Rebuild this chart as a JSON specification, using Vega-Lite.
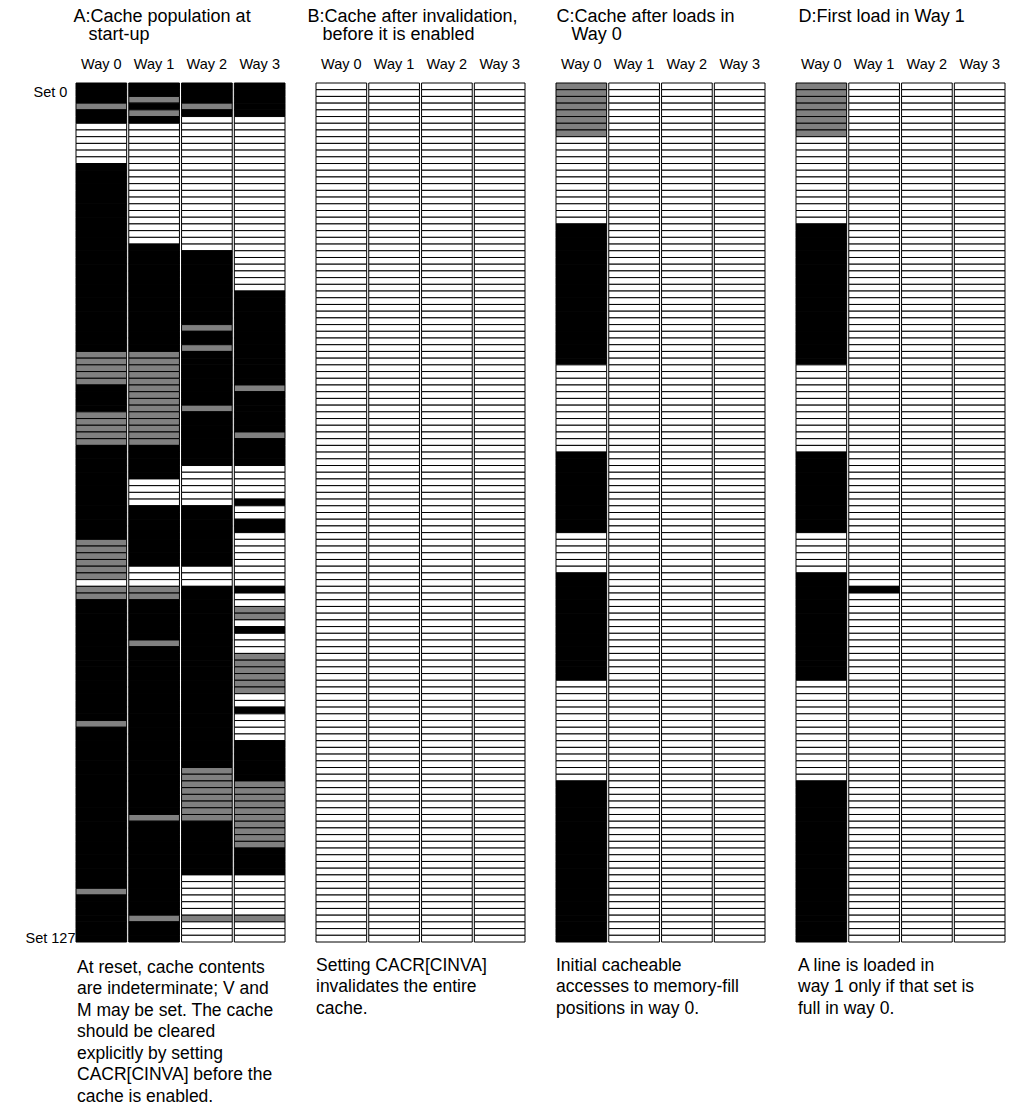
{
"$schema": "https://vega.github.io/schema/vega-lite/v6.json",
"padding": {"left": 25, "top": 7, "right": 5, "bottom": 5},
"background": "white",
"spacing": 31,
"bounds": "flush",
"data": {"values": [
{"s":0,"A0":"k","A1":"k","A2":"k","A3":"k","B0":"w","B1":"w","B2":"w","B3":"w","C0":"g","C1":"w","C2":"w","C3":"w","D0":"g","D1":"w","D2":"w","D3":"w"},
{"s":1,"A0":"k","A1":"k","A2":"k","A3":"k","B0":"w","B1":"w","B2":"w","B3":"w","C0":"g","C1":"w","C2":"w","C3":"w","D0":"g","D1":"w","D2":"w","D3":"w"},
{"s":2,"A0":"k","A1":"g","A2":"k","A3":"k","B0":"w","B1":"w","B2":"w","B3":"w","C0":"g","C1":"w","C2":"w","C3":"w","D0":"g","D1":"w","D2":"w","D3":"w"},
{"s":3,"A0":"g","A1":"k","A2":"g","A3":"k","B0":"w","B1":"w","B2":"w","B3":"w","C0":"g","C1":"w","C2":"w","C3":"w","D0":"g","D1":"w","D2":"w","D3":"w"},
{"s":4,"A0":"k","A1":"g","A2":"k","A3":"k","B0":"w","B1":"w","B2":"w","B3":"w","C0":"g","C1":"w","C2":"w","C3":"w","D0":"g","D1":"w","D2":"w","D3":"w"},
{"s":5,"A0":"k","A1":"k","A2":"w","A3":"w","B0":"w","B1":"w","B2":"w","B3":"w","C0":"g","C1":"w","C2":"w","C3":"w","D0":"g","D1":"w","D2":"w","D3":"w"},
{"s":6,"A0":"w","A1":"w","A2":"w","A3":"w","B0":"w","B1":"w","B2":"w","B3":"w","C0":"g","C1":"w","C2":"w","C3":"w","D0":"g","D1":"w","D2":"w","D3":"w"},
{"s":7,"A0":"w","A1":"w","A2":"w","A3":"w","B0":"w","B1":"w","B2":"w","B3":"w","C0":"g","C1":"w","C2":"w","C3":"w","D0":"g","D1":"w","D2":"w","D3":"w"},
{"s":8,"A0":"w","A1":"w","A2":"w","A3":"w","B0":"w","B1":"w","B2":"w","B3":"w","C0":"w","C1":"w","C2":"w","C3":"w","D0":"w","D1":"w","D2":"w","D3":"w"},
{"s":9,"A0":"w","A1":"w","A2":"w","A3":"w","B0":"w","B1":"w","B2":"w","B3":"w","C0":"w","C1":"w","C2":"w","C3":"w","D0":"w","D1":"w","D2":"w","D3":"w"},
{"s":10,"A0":"w","A1":"w","A2":"w","A3":"w","B0":"w","B1":"w","B2":"w","B3":"w","C0":"w","C1":"w","C2":"w","C3":"w","D0":"w","D1":"w","D2":"w","D3":"w"},
{"s":11,"A0":"w","A1":"w","A2":"w","A3":"w","B0":"w","B1":"w","B2":"w","B3":"w","C0":"w","C1":"w","C2":"w","C3":"w","D0":"w","D1":"w","D2":"w","D3":"w"},
{"s":12,"A0":"k","A1":"w","A2":"w","A3":"w","B0":"w","B1":"w","B2":"w","B3":"w","C0":"w","C1":"w","C2":"w","C3":"w","D0":"w","D1":"w","D2":"w","D3":"w"},
{"s":13,"A0":"k","A1":"w","A2":"w","A3":"w","B0":"w","B1":"w","B2":"w","B3":"w","C0":"w","C1":"w","C2":"w","C3":"w","D0":"w","D1":"w","D2":"w","D3":"w"},
{"s":14,"A0":"k","A1":"w","A2":"w","A3":"w","B0":"w","B1":"w","B2":"w","B3":"w","C0":"w","C1":"w","C2":"w","C3":"w","D0":"w","D1":"w","D2":"w","D3":"w"},
{"s":15,"A0":"k","A1":"w","A2":"w","A3":"w","B0":"w","B1":"w","B2":"w","B3":"w","C0":"w","C1":"w","C2":"w","C3":"w","D0":"w","D1":"w","D2":"w","D3":"w"},
{"s":16,"A0":"k","A1":"w","A2":"w","A3":"w","B0":"w","B1":"w","B2":"w","B3":"w","C0":"w","C1":"w","C2":"w","C3":"w","D0":"w","D1":"w","D2":"w","D3":"w"},
{"s":17,"A0":"k","A1":"w","A2":"w","A3":"w","B0":"w","B1":"w","B2":"w","B3":"w","C0":"w","C1":"w","C2":"w","C3":"w","D0":"w","D1":"w","D2":"w","D3":"w"},
{"s":18,"A0":"k","A1":"w","A2":"w","A3":"w","B0":"w","B1":"w","B2":"w","B3":"w","C0":"w","C1":"w","C2":"w","C3":"w","D0":"w","D1":"w","D2":"w","D3":"w"},
{"s":19,"A0":"k","A1":"w","A2":"w","A3":"w","B0":"w","B1":"w","B2":"w","B3":"w","C0":"w","C1":"w","C2":"w","C3":"w","D0":"w","D1":"w","D2":"w","D3":"w"},
{"s":20,"A0":"k","A1":"w","A2":"w","A3":"w","B0":"w","B1":"w","B2":"w","B3":"w","C0":"w","C1":"w","C2":"w","C3":"w","D0":"w","D1":"w","D2":"w","D3":"w"},
{"s":21,"A0":"k","A1":"w","A2":"w","A3":"w","B0":"w","B1":"w","B2":"w","B3":"w","C0":"k","C1":"w","C2":"w","C3":"w","D0":"k","D1":"w","D2":"w","D3":"w"},
{"s":22,"A0":"k","A1":"w","A2":"w","A3":"w","B0":"w","B1":"w","B2":"w","B3":"w","C0":"k","C1":"w","C2":"w","C3":"w","D0":"k","D1":"w","D2":"w","D3":"w"},
{"s":23,"A0":"k","A1":"w","A2":"w","A3":"w","B0":"w","B1":"w","B2":"w","B3":"w","C0":"k","C1":"w","C2":"w","C3":"w","D0":"k","D1":"w","D2":"w","D3":"w"},
{"s":24,"A0":"k","A1":"k","A2":"w","A3":"w","B0":"w","B1":"w","B2":"w","B3":"w","C0":"k","C1":"w","C2":"w","C3":"w","D0":"k","D1":"w","D2":"w","D3":"w"},
{"s":25,"A0":"k","A1":"k","A2":"k","A3":"w","B0":"w","B1":"w","B2":"w","B3":"w","C0":"k","C1":"w","C2":"w","C3":"w","D0":"k","D1":"w","D2":"w","D3":"w"},
{"s":26,"A0":"k","A1":"k","A2":"k","A3":"w","B0":"w","B1":"w","B2":"w","B3":"w","C0":"k","C1":"w","C2":"w","C3":"w","D0":"k","D1":"w","D2":"w","D3":"w"},
{"s":27,"A0":"k","A1":"k","A2":"k","A3":"w","B0":"w","B1":"w","B2":"w","B3":"w","C0":"k","C1":"w","C2":"w","C3":"w","D0":"k","D1":"w","D2":"w","D3":"w"},
{"s":28,"A0":"k","A1":"k","A2":"k","A3":"w","B0":"w","B1":"w","B2":"w","B3":"w","C0":"k","C1":"w","C2":"w","C3":"w","D0":"k","D1":"w","D2":"w","D3":"w"},
{"s":29,"A0":"k","A1":"k","A2":"k","A3":"w","B0":"w","B1":"w","B2":"w","B3":"w","C0":"k","C1":"w","C2":"w","C3":"w","D0":"k","D1":"w","D2":"w","D3":"w"},
{"s":30,"A0":"k","A1":"k","A2":"k","A3":"w","B0":"w","B1":"w","B2":"w","B3":"w","C0":"k","C1":"w","C2":"w","C3":"w","D0":"k","D1":"w","D2":"w","D3":"w"},
{"s":31,"A0":"k","A1":"k","A2":"k","A3":"k","B0":"w","B1":"w","B2":"w","B3":"w","C0":"k","C1":"w","C2":"w","C3":"w","D0":"k","D1":"w","D2":"w","D3":"w"},
{"s":32,"A0":"k","A1":"k","A2":"k","A3":"k","B0":"w","B1":"w","B2":"w","B3":"w","C0":"k","C1":"w","C2":"w","C3":"w","D0":"k","D1":"w","D2":"w","D3":"w"},
{"s":33,"A0":"k","A1":"k","A2":"k","A3":"k","B0":"w","B1":"w","B2":"w","B3":"w","C0":"k","C1":"w","C2":"w","C3":"w","D0":"k","D1":"w","D2":"w","D3":"w"},
{"s":34,"A0":"k","A1":"k","A2":"k","A3":"k","B0":"w","B1":"w","B2":"w","B3":"w","C0":"k","C1":"w","C2":"w","C3":"w","D0":"k","D1":"w","D2":"w","D3":"w"},
{"s":35,"A0":"k","A1":"k","A2":"k","A3":"k","B0":"w","B1":"w","B2":"w","B3":"w","C0":"k","C1":"w","C2":"w","C3":"w","D0":"k","D1":"w","D2":"w","D3":"w"},
{"s":36,"A0":"k","A1":"k","A2":"g","A3":"k","B0":"w","B1":"w","B2":"w","B3":"w","C0":"k","C1":"w","C2":"w","C3":"w","D0":"k","D1":"w","D2":"w","D3":"w"},
{"s":37,"A0":"k","A1":"k","A2":"k","A3":"k","B0":"w","B1":"w","B2":"w","B3":"w","C0":"k","C1":"w","C2":"w","C3":"w","D0":"k","D1":"w","D2":"w","D3":"w"},
{"s":38,"A0":"k","A1":"k","A2":"k","A3":"k","B0":"w","B1":"w","B2":"w","B3":"w","C0":"k","C1":"w","C2":"w","C3":"w","D0":"k","D1":"w","D2":"w","D3":"w"},
{"s":39,"A0":"k","A1":"k","A2":"g","A3":"k","B0":"w","B1":"w","B2":"w","B3":"w","C0":"k","C1":"w","C2":"w","C3":"w","D0":"k","D1":"w","D2":"w","D3":"w"},
{"s":40,"A0":"g","A1":"g","A2":"k","A3":"k","B0":"w","B1":"w","B2":"w","B3":"w","C0":"k","C1":"w","C2":"w","C3":"w","D0":"k","D1":"w","D2":"w","D3":"w"},
{"s":41,"A0":"g","A1":"g","A2":"k","A3":"k","B0":"w","B1":"w","B2":"w","B3":"w","C0":"k","C1":"w","C2":"w","C3":"w","D0":"k","D1":"w","D2":"w","D3":"w"},
{"s":42,"A0":"g","A1":"g","A2":"k","A3":"k","B0":"w","B1":"w","B2":"w","B3":"w","C0":"w","C1":"w","C2":"w","C3":"w","D0":"w","D1":"w","D2":"w","D3":"w"},
{"s":43,"A0":"g","A1":"g","A2":"k","A3":"k","B0":"w","B1":"w","B2":"w","B3":"w","C0":"w","C1":"w","C2":"w","C3":"w","D0":"w","D1":"w","D2":"w","D3":"w"},
{"s":44,"A0":"g","A1":"g","A2":"k","A3":"k","B0":"w","B1":"w","B2":"w","B3":"w","C0":"w","C1":"w","C2":"w","C3":"w","D0":"w","D1":"w","D2":"w","D3":"w"},
{"s":45,"A0":"k","A1":"g","A2":"k","A3":"g","B0":"w","B1":"w","B2":"w","B3":"w","C0":"w","C1":"w","C2":"w","C3":"w","D0":"w","D1":"w","D2":"w","D3":"w"},
{"s":46,"A0":"k","A1":"g","A2":"k","A3":"k","B0":"w","B1":"w","B2":"w","B3":"w","C0":"w","C1":"w","C2":"w","C3":"w","D0":"w","D1":"w","D2":"w","D3":"w"},
{"s":47,"A0":"k","A1":"g","A2":"k","A3":"k","B0":"w","B1":"w","B2":"w","B3":"w","C0":"w","C1":"w","C2":"w","C3":"w","D0":"w","D1":"w","D2":"w","D3":"w"},
{"s":48,"A0":"k","A1":"g","A2":"g","A3":"k","B0":"w","B1":"w","B2":"w","B3":"w","C0":"w","C1":"w","C2":"w","C3":"w","D0":"w","D1":"w","D2":"w","D3":"w"},
{"s":49,"A0":"g","A1":"g","A2":"k","A3":"k","B0":"w","B1":"w","B2":"w","B3":"w","C0":"w","C1":"w","C2":"w","C3":"w","D0":"w","D1":"w","D2":"w","D3":"w"},
{"s":50,"A0":"g","A1":"g","A2":"k","A3":"k","B0":"w","B1":"w","B2":"w","B3":"w","C0":"w","C1":"w","C2":"w","C3":"w","D0":"w","D1":"w","D2":"w","D3":"w"},
{"s":51,"A0":"g","A1":"g","A2":"k","A3":"k","B0":"w","B1":"w","B2":"w","B3":"w","C0":"w","C1":"w","C2":"w","C3":"w","D0":"w","D1":"w","D2":"w","D3":"w"},
{"s":52,"A0":"g","A1":"g","A2":"k","A3":"g","B0":"w","B1":"w","B2":"w","B3":"w","C0":"w","C1":"w","C2":"w","C3":"w","D0":"w","D1":"w","D2":"w","D3":"w"},
{"s":53,"A0":"g","A1":"g","A2":"k","A3":"k","B0":"w","B1":"w","B2":"w","B3":"w","C0":"w","C1":"w","C2":"w","C3":"w","D0":"w","D1":"w","D2":"w","D3":"w"},
{"s":54,"A0":"k","A1":"k","A2":"k","A3":"k","B0":"w","B1":"w","B2":"w","B3":"w","C0":"w","C1":"w","C2":"w","C3":"w","D0":"w","D1":"w","D2":"w","D3":"w"},
{"s":55,"A0":"k","A1":"k","A2":"k","A3":"k","B0":"w","B1":"w","B2":"w","B3":"w","C0":"k","C1":"w","C2":"w","C3":"w","D0":"k","D1":"w","D2":"w","D3":"w"},
{"s":56,"A0":"k","A1":"k","A2":"k","A3":"k","B0":"w","B1":"w","B2":"w","B3":"w","C0":"k","C1":"w","C2":"w","C3":"w","D0":"k","D1":"w","D2":"w","D3":"w"},
{"s":57,"A0":"k","A1":"k","A2":"w","A3":"w","B0":"w","B1":"w","B2":"w","B3":"w","C0":"k","C1":"w","C2":"w","C3":"w","D0":"k","D1":"w","D2":"w","D3":"w"},
{"s":58,"A0":"k","A1":"k","A2":"w","A3":"w","B0":"w","B1":"w","B2":"w","B3":"w","C0":"k","C1":"w","C2":"w","C3":"w","D0":"k","D1":"w","D2":"w","D3":"w"},
{"s":59,"A0":"k","A1":"w","A2":"w","A3":"w","B0":"w","B1":"w","B2":"w","B3":"w","C0":"k","C1":"w","C2":"w","C3":"w","D0":"k","D1":"w","D2":"w","D3":"w"},
{"s":60,"A0":"k","A1":"w","A2":"w","A3":"w","B0":"w","B1":"w","B2":"w","B3":"w","C0":"k","C1":"w","C2":"w","C3":"w","D0":"k","D1":"w","D2":"w","D3":"w"},
{"s":61,"A0":"k","A1":"w","A2":"w","A3":"w","B0":"w","B1":"w","B2":"w","B3":"w","C0":"k","C1":"w","C2":"w","C3":"w","D0":"k","D1":"w","D2":"w","D3":"w"},
{"s":62,"A0":"k","A1":"w","A2":"w","A3":"k","B0":"w","B1":"w","B2":"w","B3":"w","C0":"k","C1":"w","C2":"w","C3":"w","D0":"k","D1":"w","D2":"w","D3":"w"},
{"s":63,"A0":"k","A1":"k","A2":"k","A3":"w","B0":"w","B1":"w","B2":"w","B3":"w","C0":"k","C1":"w","C2":"w","C3":"w","D0":"k","D1":"w","D2":"w","D3":"w"},
{"s":64,"A0":"k","A1":"k","A2":"k","A3":"w","B0":"w","B1":"w","B2":"w","B3":"w","C0":"k","C1":"w","C2":"w","C3":"w","D0":"k","D1":"w","D2":"w","D3":"w"},
{"s":65,"A0":"k","A1":"k","A2":"k","A3":"k","B0":"w","B1":"w","B2":"w","B3":"w","C0":"k","C1":"w","C2":"w","C3":"w","D0":"k","D1":"w","D2":"w","D3":"w"},
{"s":66,"A0":"k","A1":"k","A2":"k","A3":"k","B0":"w","B1":"w","B2":"w","B3":"w","C0":"k","C1":"w","C2":"w","C3":"w","D0":"k","D1":"w","D2":"w","D3":"w"},
{"s":67,"A0":"k","A1":"k","A2":"k","A3":"w","B0":"w","B1":"w","B2":"w","B3":"w","C0":"w","C1":"w","C2":"w","C3":"w","D0":"w","D1":"w","D2":"w","D3":"w"},
{"s":68,"A0":"g","A1":"k","A2":"k","A3":"w","B0":"w","B1":"w","B2":"w","B3":"w","C0":"w","C1":"w","C2":"w","C3":"w","D0":"w","D1":"w","D2":"w","D3":"w"},
{"s":69,"A0":"g","A1":"k","A2":"k","A3":"w","B0":"w","B1":"w","B2":"w","B3":"w","C0":"w","C1":"w","C2":"w","C3":"w","D0":"w","D1":"w","D2":"w","D3":"w"},
{"s":70,"A0":"g","A1":"k","A2":"k","A3":"w","B0":"w","B1":"w","B2":"w","B3":"w","C0":"w","C1":"w","C2":"w","C3":"w","D0":"w","D1":"w","D2":"w","D3":"w"},
{"s":71,"A0":"g","A1":"k","A2":"k","A3":"w","B0":"w","B1":"w","B2":"w","B3":"w","C0":"w","C1":"w","C2":"w","C3":"w","D0":"w","D1":"w","D2":"w","D3":"w"},
{"s":72,"A0":"g","A1":"w","A2":"w","A3":"w","B0":"w","B1":"w","B2":"w","B3":"w","C0":"w","C1":"w","C2":"w","C3":"w","D0":"w","D1":"w","D2":"w","D3":"w"},
{"s":73,"A0":"g","A1":"w","A2":"w","A3":"w","B0":"w","B1":"w","B2":"w","B3":"w","C0":"k","C1":"w","C2":"w","C3":"w","D0":"k","D1":"w","D2":"w","D3":"w"},
{"s":74,"A0":"w","A1":"w","A2":"w","A3":"w","B0":"w","B1":"w","B2":"w","B3":"w","C0":"k","C1":"w","C2":"w","C3":"w","D0":"k","D1":"w","D2":"w","D3":"w"},
{"s":75,"A0":"g","A1":"g","A2":"k","A3":"k","B0":"w","B1":"w","B2":"w","B3":"w","C0":"k","C1":"w","C2":"w","C3":"w","D0":"k","D1":"k","D2":"w","D3":"w"},
{"s":76,"A0":"g","A1":"g","A2":"k","A3":"w","B0":"w","B1":"w","B2":"w","B3":"w","C0":"k","C1":"w","C2":"w","C3":"w","D0":"k","D1":"w","D2":"w","D3":"w"},
{"s":77,"A0":"k","A1":"k","A2":"k","A3":"w","B0":"w","B1":"w","B2":"w","B3":"w","C0":"k","C1":"w","C2":"w","C3":"w","D0":"k","D1":"w","D2":"w","D3":"w"},
{"s":78,"A0":"k","A1":"k","A2":"k","A3":"g","B0":"w","B1":"w","B2":"w","B3":"w","C0":"k","C1":"w","C2":"w","C3":"w","D0":"k","D1":"w","D2":"w","D3":"w"},
{"s":79,"A0":"k","A1":"k","A2":"k","A3":"g","B0":"w","B1":"w","B2":"w","B3":"w","C0":"k","C1":"w","C2":"w","C3":"w","D0":"k","D1":"w","D2":"w","D3":"w"},
{"s":80,"A0":"k","A1":"k","A2":"k","A3":"w","B0":"w","B1":"w","B2":"w","B3":"w","C0":"k","C1":"w","C2":"w","C3":"w","D0":"k","D1":"w","D2":"w","D3":"w"},
{"s":81,"A0":"k","A1":"k","A2":"k","A3":"k","B0":"w","B1":"w","B2":"w","B3":"w","C0":"k","C1":"w","C2":"w","C3":"w","D0":"k","D1":"w","D2":"w","D3":"w"},
{"s":82,"A0":"k","A1":"k","A2":"k","A3":"w","B0":"w","B1":"w","B2":"w","B3":"w","C0":"k","C1":"w","C2":"w","C3":"w","D0":"k","D1":"w","D2":"w","D3":"w"},
{"s":83,"A0":"k","A1":"g","A2":"k","A3":"w","B0":"w","B1":"w","B2":"w","B3":"w","C0":"k","C1":"w","C2":"w","C3":"w","D0":"k","D1":"w","D2":"w","D3":"w"},
{"s":84,"A0":"k","A1":"k","A2":"k","A3":"w","B0":"w","B1":"w","B2":"w","B3":"w","C0":"k","C1":"w","C2":"w","C3":"w","D0":"k","D1":"w","D2":"w","D3":"w"},
{"s":85,"A0":"k","A1":"k","A2":"k","A3":"g","B0":"w","B1":"w","B2":"w","B3":"w","C0":"k","C1":"w","C2":"w","C3":"w","D0":"k","D1":"w","D2":"w","D3":"w"},
{"s":86,"A0":"k","A1":"k","A2":"k","A3":"g","B0":"w","B1":"w","B2":"w","B3":"w","C0":"k","C1":"w","C2":"w","C3":"w","D0":"k","D1":"w","D2":"w","D3":"w"},
{"s":87,"A0":"k","A1":"k","A2":"k","A3":"g","B0":"w","B1":"w","B2":"w","B3":"w","C0":"k","C1":"w","C2":"w","C3":"w","D0":"k","D1":"w","D2":"w","D3":"w"},
{"s":88,"A0":"k","A1":"k","A2":"k","A3":"g","B0":"w","B1":"w","B2":"w","B3":"w","C0":"k","C1":"w","C2":"w","C3":"w","D0":"k","D1":"w","D2":"w","D3":"w"},
{"s":89,"A0":"k","A1":"k","A2":"k","A3":"g","B0":"w","B1":"w","B2":"w","B3":"w","C0":"w","C1":"w","C2":"w","C3":"w","D0":"w","D1":"w","D2":"w","D3":"w"},
{"s":90,"A0":"k","A1":"k","A2":"k","A3":"g","B0":"w","B1":"w","B2":"w","B3":"w","C0":"w","C1":"w","C2":"w","C3":"w","D0":"w","D1":"w","D2":"w","D3":"w"},
{"s":91,"A0":"k","A1":"k","A2":"k","A3":"w","B0":"w","B1":"w","B2":"w","B3":"w","C0":"w","C1":"w","C2":"w","C3":"w","D0":"w","D1":"w","D2":"w","D3":"w"},
{"s":92,"A0":"k","A1":"k","A2":"k","A3":"w","B0":"w","B1":"w","B2":"w","B3":"w","C0":"w","C1":"w","C2":"w","C3":"w","D0":"w","D1":"w","D2":"w","D3":"w"},
{"s":93,"A0":"k","A1":"k","A2":"k","A3":"k","B0":"w","B1":"w","B2":"w","B3":"w","C0":"w","C1":"w","C2":"w","C3":"w","D0":"w","D1":"w","D2":"w","D3":"w"},
{"s":94,"A0":"k","A1":"k","A2":"k","A3":"w","B0":"w","B1":"w","B2":"w","B3":"w","C0":"w","C1":"w","C2":"w","C3":"w","D0":"w","D1":"w","D2":"w","D3":"w"},
{"s":95,"A0":"g","A1":"k","A2":"k","A3":"w","B0":"w","B1":"w","B2":"w","B3":"w","C0":"w","C1":"w","C2":"w","C3":"w","D0":"w","D1":"w","D2":"w","D3":"w"},
{"s":96,"A0":"k","A1":"k","A2":"k","A3":"w","B0":"w","B1":"w","B2":"w","B3":"w","C0":"w","C1":"w","C2":"w","C3":"w","D0":"w","D1":"w","D2":"w","D3":"w"},
{"s":97,"A0":"k","A1":"k","A2":"k","A3":"w","B0":"w","B1":"w","B2":"w","B3":"w","C0":"w","C1":"w","C2":"w","C3":"w","D0":"w","D1":"w","D2":"w","D3":"w"},
{"s":98,"A0":"k","A1":"k","A2":"k","A3":"k","B0":"w","B1":"w","B2":"w","B3":"w","C0":"w","C1":"w","C2":"w","C3":"w","D0":"w","D1":"w","D2":"w","D3":"w"},
{"s":99,"A0":"k","A1":"k","A2":"k","A3":"k","B0":"w","B1":"w","B2":"w","B3":"w","C0":"w","C1":"w","C2":"w","C3":"w","D0":"w","D1":"w","D2":"w","D3":"w"},
{"s":100,"A0":"k","A1":"k","A2":"k","A3":"k","B0":"w","B1":"w","B2":"w","B3":"w","C0":"w","C1":"w","C2":"w","C3":"w","D0":"w","D1":"w","D2":"w","D3":"w"},
{"s":101,"A0":"k","A1":"k","A2":"k","A3":"k","B0":"w","B1":"w","B2":"w","B3":"w","C0":"w","C1":"w","C2":"w","C3":"w","D0":"w","D1":"w","D2":"w","D3":"w"},
{"s":102,"A0":"k","A1":"k","A2":"g","A3":"k","B0":"w","B1":"w","B2":"w","B3":"w","C0":"w","C1":"w","C2":"w","C3":"w","D0":"w","D1":"w","D2":"w","D3":"w"},
{"s":103,"A0":"k","A1":"k","A2":"g","A3":"k","B0":"w","B1":"w","B2":"w","B3":"w","C0":"w","C1":"w","C2":"w","C3":"w","D0":"w","D1":"w","D2":"w","D3":"w"},
{"s":104,"A0":"k","A1":"k","A2":"g","A3":"g","B0":"w","B1":"w","B2":"w","B3":"w","C0":"k","C1":"w","C2":"w","C3":"w","D0":"k","D1":"w","D2":"w","D3":"w"},
{"s":105,"A0":"k","A1":"k","A2":"g","A3":"g","B0":"w","B1":"w","B2":"w","B3":"w","C0":"k","C1":"w","C2":"w","C3":"w","D0":"k","D1":"w","D2":"w","D3":"w"},
{"s":106,"A0":"k","A1":"k","A2":"g","A3":"g","B0":"w","B1":"w","B2":"w","B3":"w","C0":"k","C1":"w","C2":"w","C3":"w","D0":"k","D1":"w","D2":"w","D3":"w"},
{"s":107,"A0":"k","A1":"k","A2":"g","A3":"g","B0":"w","B1":"w","B2":"w","B3":"w","C0":"k","C1":"w","C2":"w","C3":"w","D0":"k","D1":"w","D2":"w","D3":"w"},
{"s":108,"A0":"k","A1":"k","A2":"g","A3":"g","B0":"w","B1":"w","B2":"w","B3":"w","C0":"k","C1":"w","C2":"w","C3":"w","D0":"k","D1":"w","D2":"w","D3":"w"},
{"s":109,"A0":"k","A1":"g","A2":"g","A3":"g","B0":"w","B1":"w","B2":"w","B3":"w","C0":"k","C1":"w","C2":"w","C3":"w","D0":"k","D1":"w","D2":"w","D3":"w"},
{"s":110,"A0":"k","A1":"k","A2":"k","A3":"g","B0":"w","B1":"w","B2":"w","B3":"w","C0":"k","C1":"w","C2":"w","C3":"w","D0":"k","D1":"w","D2":"w","D3":"w"},
{"s":111,"A0":"k","A1":"k","A2":"k","A3":"g","B0":"w","B1":"w","B2":"w","B3":"w","C0":"k","C1":"w","C2":"w","C3":"w","D0":"k","D1":"w","D2":"w","D3":"w"},
{"s":112,"A0":"k","A1":"k","A2":"k","A3":"g","B0":"w","B1":"w","B2":"w","B3":"w","C0":"k","C1":"w","C2":"w","C3":"w","D0":"k","D1":"w","D2":"w","D3":"w"},
{"s":113,"A0":"k","A1":"k","A2":"k","A3":"g","B0":"w","B1":"w","B2":"w","B3":"w","C0":"k","C1":"w","C2":"w","C3":"w","D0":"k","D1":"w","D2":"w","D3":"w"},
{"s":114,"A0":"k","A1":"k","A2":"k","A3":"k","B0":"w","B1":"w","B2":"w","B3":"w","C0":"k","C1":"w","C2":"w","C3":"w","D0":"k","D1":"w","D2":"w","D3":"w"},
{"s":115,"A0":"k","A1":"k","A2":"k","A3":"k","B0":"w","B1":"w","B2":"w","B3":"w","C0":"k","C1":"w","C2":"w","C3":"w","D0":"k","D1":"w","D2":"w","D3":"w"},
{"s":116,"A0":"k","A1":"k","A2":"k","A3":"k","B0":"w","B1":"w","B2":"w","B3":"w","C0":"k","C1":"w","C2":"w","C3":"w","D0":"k","D1":"w","D2":"w","D3":"w"},
{"s":117,"A0":"k","A1":"k","A2":"k","A3":"k","B0":"w","B1":"w","B2":"w","B3":"w","C0":"k","C1":"w","C2":"w","C3":"w","D0":"k","D1":"w","D2":"w","D3":"w"},
{"s":118,"A0":"k","A1":"k","A2":"w","A3":"w","B0":"w","B1":"w","B2":"w","B3":"w","C0":"k","C1":"w","C2":"w","C3":"w","D0":"k","D1":"w","D2":"w","D3":"w"},
{"s":119,"A0":"k","A1":"k","A2":"w","A3":"w","B0":"w","B1":"w","B2":"w","B3":"w","C0":"k","C1":"w","C2":"w","C3":"w","D0":"k","D1":"w","D2":"w","D3":"w"},
{"s":120,"A0":"g","A1":"k","A2":"w","A3":"w","B0":"w","B1":"w","B2":"w","B3":"w","C0":"k","C1":"w","C2":"w","C3":"w","D0":"k","D1":"w","D2":"w","D3":"w"},
{"s":121,"A0":"k","A1":"k","A2":"w","A3":"w","B0":"w","B1":"w","B2":"w","B3":"w","C0":"k","C1":"w","C2":"w","C3":"w","D0":"k","D1":"w","D2":"w","D3":"w"},
{"s":122,"A0":"k","A1":"k","A2":"w","A3":"w","B0":"w","B1":"w","B2":"w","B3":"w","C0":"k","C1":"w","C2":"w","C3":"w","D0":"k","D1":"w","D2":"w","D3":"w"},
{"s":123,"A0":"k","A1":"k","A2":"w","A3":"w","B0":"w","B1":"w","B2":"w","B3":"w","C0":"k","C1":"w","C2":"w","C3":"w","D0":"k","D1":"w","D2":"w","D3":"w"},
{"s":124,"A0":"k","A1":"g","A2":"g","A3":"g","B0":"w","B1":"w","B2":"w","B3":"w","C0":"k","C1":"w","C2":"w","C3":"w","D0":"k","D1":"w","D2":"w","D3":"w"},
{"s":125,"A0":"k","A1":"k","A2":"w","A3":"w","B0":"w","B1":"w","B2":"w","B3":"w","C0":"k","C1":"w","C2":"w","C3":"w","D0":"k","D1":"w","D2":"w","D3":"w"},
{"s":126,"A0":"k","A1":"k","A2":"w","A3":"w","B0":"w","B1":"w","B2":"w","B3":"w","C0":"k","C1":"w","C2":"w","C3":"w","D0":"k","D1":"w","D2":"w","D3":"w"},
{"s":127,"A0":"k","A1":"k","A2":"w","A3":"w","B0":"w","B1":"w","B2":"w","B3":"w","C0":"k","C1":"w","C2":"w","C3":"w","D0":"k","D1":"w","D2":"w","D3":"w"}
]},
"config": {
  "view": {"stroke": null},
  "font": "Liberation Sans",
  "axis": {"domain": false, "ticks": false, "tickSize": 0, "grid": false, "labelColor": "#000", "titleColor": "#000", "labelFont": "Liberation Sans", "titleFont": "Liberation Sans", "titleFontWeight": "normal"},
  "title": {"color": "#000", "font": "Liberation Sans", "fontWeight": "normal", "fontSize": 17.5, "lineHeight": 21.5, "anchor": "start", "orient": "bottom", "frame": "group", "offset": 14, "align": "left"}
},
"hconcat": [
{
  "width": 209, "height": 859,
  "title": {"text": ["At reset, cache contents", "are indeterminate; V and", "M may be set. The cache", "should be cleared", "explicitly by setting", "CACR[CINVA] before the", "cache is enabled."], "dx": 1},
  "transform": [{"fold": ["A0", "A1", "A2", "A3"], "as": ["way", "state"]}],
  "mark": {"type": "rect", "stroke": "#000", "strokeWidth": 1},
  "encoding": {
    "x": {"field": "way", "type": "nominal", "scale": {"paddingInner": 0.04, "paddingOuter": 0}, "axis": {"orient": "top", "labelExpr": "'Way ' + substring(datum.value, 1)", "labelAngle": 0, "labelFontSize": 14.5, "labelPadding": 12, "title": ["A:Cache population at", "\u200b\u00a0\u00a0\u00a0start-up"], "titleFontSize": 18, "titleLineHeight": 18, "titleAlign": "left", "titleBaseline": "alphabetic", "titleX": -3, "titleY": -61.5}},
    "y": {"field": "s", "type": "ordinal", "scale": {"paddingInner": 0, "paddingOuter": 0}, "axis": {"values": [0, 127], "labelExpr": "'Set ' + datum.value", "labelFontSize": 14.5, "labelAlign": {"condition": {"test": "datum.value == 127", "value": "right"}, "value": "left"}, "labelPadding": {"condition": {"test": "datum.value == 127", "value": 1}, "value": 43}, "labelFlush": 5, "title": null}},
    "fill": {"field": "state", "type": "nominal", "scale": {"domain": ["k", "g", "w"], "range": ["#000000", "#808080", "#ffffff"]}, "legend": null}
  }
},
{
  "width": 209, "height": 859,
  "title": {"text": ["Setting CACR[CINVA]", "invalidates the entire", "cache."]},
  "transform": [{"fold": ["B0", "B1", "B2", "B3"], "as": ["way", "state"]}],
  "mark": {"type": "rect", "stroke": "#000", "strokeWidth": 1},
  "encoding": {
    "x": {"field": "way", "type": "nominal", "scale": {"paddingInner": 0.04, "paddingOuter": 0}, "axis": {"orient": "top", "labelExpr": "'Way ' + substring(datum.value, 1)", "labelAngle": 0, "labelFontSize": 14.5, "labelPadding": 12, "title": ["B:Cache after invalidation,", "\u200b\u00a0\u00a0\u00a0before it is enabled"], "titleFontSize": 18, "titleLineHeight": 18, "titleAlign": "left", "titleBaseline": "alphabetic", "titleX": -9, "titleY": -61.5}},
    "y": {"field": "s", "type": "ordinal", "scale": {"paddingInner": 0, "paddingOuter": 0}, "axis": null},
    "fill": {"field": "state", "type": "nominal", "scale": {"domain": ["k", "g", "w"], "range": ["#000000", "#808080", "#ffffff"]}, "legend": null}
  }
},
{
  "width": 209, "height": 859,
  "title": {"text": ["Initial cacheable", "accesses to memory-fill", "positions in way 0."]},
  "transform": [{"fold": ["C0", "C1", "C2", "C3"], "as": ["way", "state"]}],
  "mark": {"type": "rect", "stroke": "#000", "strokeWidth": 1},
  "encoding": {
    "x": {"field": "way", "type": "nominal", "scale": {"paddingInner": 0.04, "paddingOuter": 0}, "axis": {"orient": "top", "labelExpr": "'Way ' + substring(datum.value, 1)", "labelAngle": 0, "labelFontSize": 14.5, "labelPadding": 12, "title": ["C:Cache after loads in", "\u200b\u00a0\u00a0\u00a0Way 0"], "titleFontSize": 18, "titleLineHeight": 18, "titleAlign": "left", "titleBaseline": "alphabetic", "titleX": 0, "titleY": -61.5}},
    "y": {"field": "s", "type": "ordinal", "scale": {"paddingInner": 0, "paddingOuter": 0}, "axis": null},
    "fill": {"field": "state", "type": "nominal", "scale": {"domain": ["k", "g", "w"], "range": ["#000000", "#808080", "#ffffff"]}, "legend": null}
  }
},
{
  "width": 209, "height": 859,
  "title": {"text": ["A line is loaded in", "way 1 only if that set is", "full in way 0."], "dx": 2},
  "transform": [{"fold": ["D0", "D1", "D2", "D3"], "as": ["way", "state"]}],
  "mark": {"type": "rect", "stroke": "#000", "strokeWidth": 1},
  "encoding": {
    "x": {"field": "way", "type": "nominal", "scale": {"paddingInner": 0.04, "paddingOuter": 0}, "axis": {"orient": "top", "labelExpr": "'Way ' + substring(datum.value, 1)", "labelAngle": 0, "labelFontSize": 14.5, "labelPadding": 12, "title": ["D:First load in Way 1"], "titleFontSize": 18, "titleLineHeight": 18, "titleAlign": "left", "titleBaseline": "alphabetic", "titleX": 2, "titleY": -61.5}},
    "y": {"field": "s", "type": "ordinal", "scale": {"paddingInner": 0, "paddingOuter": 0}, "axis": null},
    "fill": {"field": "state", "type": "nominal", "scale": {"domain": ["k", "g", "w"], "range": ["#000000", "#808080", "#ffffff"]}, "legend": null}
  }
}
]
}
